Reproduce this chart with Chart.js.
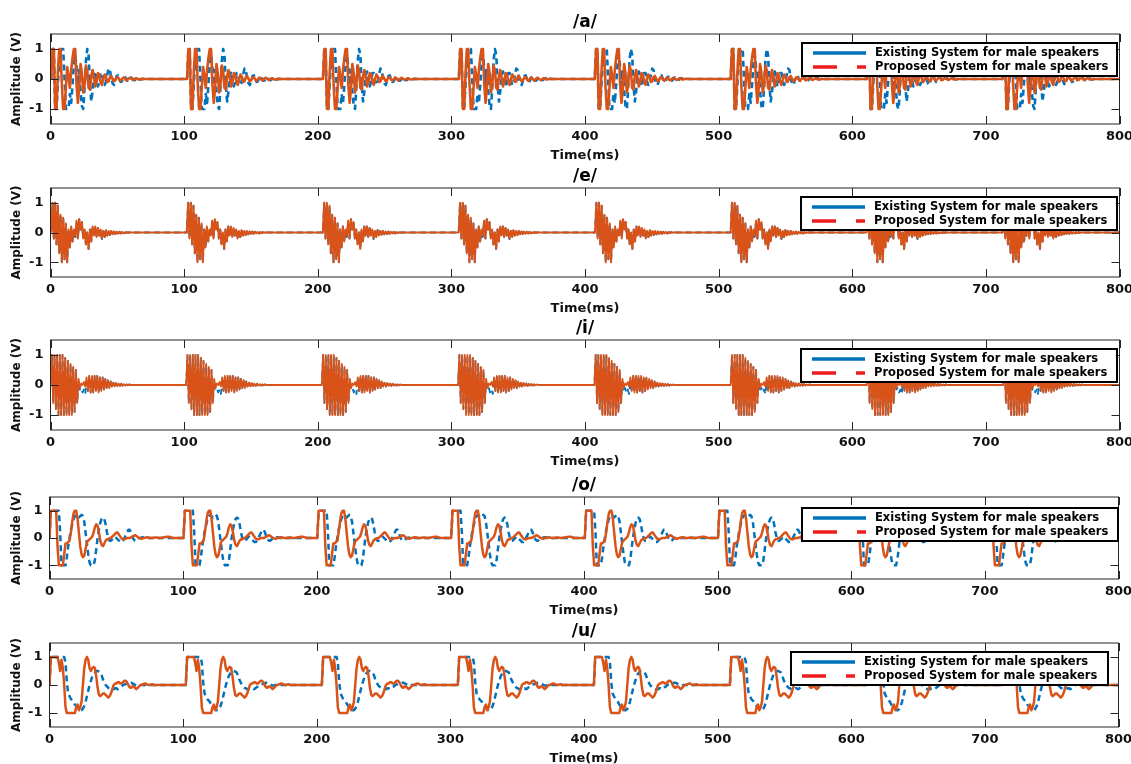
<!DOCTYPE html>
<html>
<head>
<meta charset="utf-8">
<script src="https://cdn.jsdelivr.net/npm/chart.js@4.4.1/dist/chart.umd.min.js"></script>
<style>
  body { margin: 0; background: #fff; width: 1131px; height: 764px; position: relative; overflow: hidden; }
  .panel { position: absolute; left: 0; }
</style>
</head>
<body>
<script>
// ---- data ----
const timeTicks = [0, 100, 200, 300, 400, 500, 600, 700, 800];
const ampTicks = [-1, 0, 1];
const vowels = ['/a/', '/e/', '/i/', '/o/', '/u/'];
const seriesNames = ['Existing System for male speakers', 'Proposed System for male speakers'];
const sampleStep = 1; // ms between samples of one burst

// burst start times (ms) in each panel
const onsetsA = [0.5, 102.2, 203.9, 305.6, 407.3, 509, 610.7, 712.4];
const onsetsE = [0.5, 102, 203.8, 305.5, 407.5, 509, 610.8, 712.5];
const onsetsI = [0, 101.5, 203, 305, 407, 509, 611, 713];
const onsetsO = [0, 100.3, 200.4, 300.6, 400.6, 500.3, 600.5, 700.5];
const onsetsU = [0, 102, 203.8, 305.6, 407.4, 509.2, 611, 712.8];

// one burst of each signal, sampled every ms from its onset
const existingA = [0, 1, 1, -1, -1, -0.2, 0.5, 0.9, 1, 1, 0, -1, -1, -1, -0.5, -0.8, -0.2, 0.5, 0.8, 0.4,
  -0.2, 0.3, -0.4, -0.9, -1, -0.3, 0.6, 1, 0.8, -0.2, -0.75, -0.4, 0.1, 0.25, 0, -0.25, -0.1, 0.2, 0.2, -0.05,
  -0.2, -0.1, 0.15, 0.35, 0.3, 0, -0.15, -0.2, -0.05, 0.1, 0.12, 0, -0.1, -0.08, 0.04, 0.08, 0.02, -0.06, -0.05, 0.03,
  0.05, 0, -0.04, -0.03, 0.02, 0.03, 0, -0.02, -0.01, 0.01, 0];
const proposedA = [0, 1, 1, -1, -1, 0.2, 1, 1, -0.2, -1, -1, -0.3, 0.4, 0.1, -0.3, 0.3, 0.7, 1, 1, -0.2,
  -0.8, -0.3, 0.5, 0.2, -0.45, -0.2, 0.45, 0.3, -0.3, -0.35, 0.1, 0.3, 0.05, -0.25, -0.1, 0.2, 0.15, -0.1, -0.2, 0,
  0.15, 0.08, -0.1, -0.08, 0.06, 0.1, 0, -0.08, -0.04, 0.05, 0.06, -0.02, -0.06, 0, 0.05, 0.03, -0.04, -0.03, 0.02, 0.04,
  0, -0.03, -0.02, 0.02, 0.02, -0.01, -0.02, 0, 0.01, 0, 0];

const existingE = [0, 1, -0.2, 1, -0.4, 0.9, -0.7, 0.6, -1, 0.5, -0.9, 0.3, -1, 0.1, -0.5, 0.2, -0.3, 0, -0.15, 0.35,
  -0.2, 0.45, 0.1, 0.35, -0.2, 0.1, -0.4, 0, -0.55, 0.1, -0.3, 0.2, -0.1, 0.2, -0.15, 0.15, -0.1, 0.05, -0.22, 0.05,
  -0.15, 0.08, -0.1, 0.05, -0.08, 0.05, -0.06, 0.03, -0.05, 0.03, -0.04, 0.02, -0.03, 0.02, -0.03, 0.01, -0.02, 0.01, -0.01, 0.01, 0];
const proposedE = [0, 1, -0.2, 1, -0.4, 0.9, -0.7, 0.6, -1, 0.5, -0.9, 0.3, -1, 0.1, -0.5, 0.2, -0.3, 0.1, -0.1, 0.4,
  -0.2, 0.45, 0.1, 0.35, -0.2, 0.1, -0.4, 0, -0.55, 0.1, -0.3, 0.2, -0.1, 0.2, -0.15, 0.15, -0.1, 0.1, -0.2, 0.05,
  -0.15, 0.08, -0.1, 0.05, -0.08, 0.05, -0.06, 0.03, -0.05, 0.03, -0.04, 0.02, -0.03, 0.02, -0.03, 0.01, -0.02, 0.01, -0.01, 0.01, 0];

const existingI = [0, 1, -0.6, 1, -0.8, 1, -1, 1, -1, 1, -1, 0.9, -1, 0.8, -1, 0.7, -1, 0.6, -0.9, 0.5,
  -0.6, 0.1, -0.15, -0.1, -0.25, -0.15, -0.3, 0.1, -0.2, 0.3, -0.25, 0.3, -0.25, 0.3, -0.2, 0.3, -0.25, 0.25, -0.2, 0.25,
  -0.15, 0.2, -0.1, 0.15, -0.1, 0.12, -0.05, 0.08, -0.05, 0.06, -0.03, 0.05, -0.03, 0.04, -0.02, 0.03, -0.02, 0.02, -0.01, 0.02, 0];
const proposedI = [0, 1, -0.6, 1, -0.8, 1, -1, 1, -1, 1, -1, 0.9, -1, 0.8, -1, 0.7, -1, 0.6, -0.9, 0.5,
  -0.6, 0.2, -0.1, 0.05, 0, 0.1, -0.05, 0.25, -0.2, 0.3, -0.25, 0.3, -0.25, 0.3, -0.2, 0.3, -0.25, 0.25, -0.2, 0.25,
  -0.15, 0.2, -0.1, 0.15, -0.1, 0.12, -0.05, 0.08, -0.05, 0.06, -0.03, 0.05, -0.03, 0.04, -0.02, 0.03, -0.02, 0.02, -0.01, 0.02, 0];

const existingO = [0, 1, 1, 1, 1, 1, 1, 1, 0.2, -1, -1, -1, -1, -0.7, -0.3, 0, 0.3, 0.5, 0.7, 0.8,
  0.85, 0.8, 0.75, 0.8, 0.85, 0.8, 0.6, 0.2, -0.2, -0.6, -0.9, -1, -1, -1, -0.8, -0.4, 0, 0.3, 0.55, 0.7,
  0.75, 0.7, 0.5, 0.2, 0, -0.1, -0.1, -0.05, 0, 0.05, 0, -0.05, -0.1, -0.15, -0.15, -0.1, 0, 0.1, 0.2, 0.3,
  0.3, 0.2, 0.05, -0.05, -0.1, -0.1, -0.05, 0, 0, 0.02, 0.03, 0.02, 0];
const proposedO = [0, 1, 1, 1, 1, 1, -0.3, -1, -1, -1, -1, -0.6, -0.2, -0.2, -0.15, -0.1, 0.2, 0.6, 0.9, 1,
  1, 0.7, 0.2, -0.3, -0.6, -0.7, -0.65, -0.4, -0.15, -0.1, -0.05, 0, 0.05, 0.2, 0.4, 0.5, 0.45, 0.2, -0.1, -0.25,
  -0.3, -0.2, -0.1, -0.05, -0.05, 0, 0, 0.05, 0.1, 0.15, 0.2, 0.2, 0.12, 0.05, -0.02, -0.05, -0.05, -0.02, 0, 0,
  0, 0.02, 0.05, 0.08, 0.1, 0.08, 0.03, 0, -0.02, -0.03, 0, 0, 0.02, 0.03, 0.02, 0, 0, 0, 0.01, 0.02,
  0.02, 0.01, 0, 0, 0.01, 0.02, 0.03, 0.04, 0.05, 0.05, 0.04, 0.02, 0];

const existingU = [0, 1, 1, 1, 1, 1, 1, 1, 1, 1, 1, 1, 0.8, 0.1, -0.3, -0.4, -0.5, -0.55, -0.6, -0.7,
  -0.75, -0.8, -0.85, -0.9, -0.9, -0.85, -0.75, -0.6, -0.4, -0.2, 0, 0.15, 0.3, 0.4, 0.45, 0.5, 0.5, 0.48, 0.45, 0.35,
  0.2, 0.1, 0, -0.05, -0.1, -0.12, -0.15, -0.15, -0.15, -0.12, -0.12, -0.15, -0.12, -0.08, -0.05, 0, 0.02, 0.03, 0.05, 0.06,
  0.08, 0.08, 0.06, 0.03, 0, -0.02, -0.02, 0];
const proposedU = [0, 1, 1, 1, 1, 1, 1, 0.8, 0.5, 0.9, 0.6, 0, -0.8, -1, -1, -1, -1, -1, -1, -1,
  -0.8, -0.7, -0.9, -0.8, -0.6, 0, 0.6, 0.9, 1, 0.9, 0.6, 0.5, 0.6, 0.65, 0.6, 0.3, -0.1, -0.35, -0.4, -0.35,
  -0.3, -0.3, -0.35, -0.4, -0.45, -0.4, -0.3, -0.15, 0, 0.05, 0.05, 0.1, 0.1, 0.05, 0.05, 0.1, 0.15, 0.15, 0.1, 0,
  -0.08, -0.1, -0.05, -0.05, -0.1, -0.15, -0.1, -0.05, 0, 0, 0.03, 0.05, 0.05, 0.02, 0, 0, 0.02, 0.03, 0];

const onsets = [onsetsA, onsetsE, onsetsI, onsetsO, onsetsU];
const existing = [existingA, existingE, existingI, existingO, existingU];
const proposed = [proposedA, proposedE, proposedI, proposedO, proposedU];

// ---- layout (pixels) ----
const plotTop = [34, 188, 340, 497, 643];
const plotBottom = [124, 277, 430, 579, 727];
const plotLeft = [50.5, 50.5, 50.5, 49.5, 49.5];
const plotRight = [1119.5, 1119.5, 1119.5, 1118.5, 1118.5];
const legendLeft = [802, 801, 801, 802, 791];
const legendRight = [1117, 1117, 1117, 1118, 1108];
const legendDrop = [9, 9, 9, 11, 9];
const lineWidths = [2.6, 2, 1.8, 2.5, 2.5];

const ORANGE = '#D95319';
const BLUE = '#0072BD';
const FONT = '"DejaVu Sans", sans-serif';

function burstTrain(starts, shape) {
  const pts = [];
  starts.forEach(t0 => shape.forEach((v, i) => pts.push({ x: t0 + i * sampleStep, y: v })));
  const end = timeTicks[timeTicks.length - 1];
  if (pts[pts.length - 1].x < end) pts.push({ x: end, y: 0 });
  return pts;
}

const framePlugin = {
  id: 'frame',
  afterDraw(chart, args, opts) {
    const { ctx, chartArea: a, scales: { x, y } } = chart;
    ctx.save();
    // axes title
    ctx.fillStyle = '#000';
    ctx.font = 'bold 17px ' + FONT;
    ctx.textAlign = 'center';
    ctx.textBaseline = 'middle';
    ctx.fillText(opts.title, (a.left + a.right) / 2, a.top - 11);
    // box + inward ticks
    ctx.strokeStyle = '#262626';
    ctx.lineWidth = 1;
    ctx.strokeRect(a.left, a.top, a.right - a.left, a.bottom - a.top);
    ctx.beginPath();
    timeTicks.forEach(v => {
      const px = Math.round(x.getPixelForValue(v)) + 0.5;
      ctx.moveTo(px, a.bottom); ctx.lineTo(px, a.bottom - 8);
      ctx.moveTo(px, a.top); ctx.lineTo(px, a.top + 8);
    });
    ampTicks.forEach(v => {
      const py = Math.round(y.getPixelForValue(v)) + 0.5;
      ctx.moveTo(a.left, py); ctx.lineTo(a.left + 8, py);
      ctx.moveTo(a.right, py); ctx.lineTo(a.right - 8, py);
    });
    ctx.stroke();
    // legend box
    const L = opts.legend.left, R = opts.legend.right, T = a.top + opts.legend.drop, H = 33;
    ctx.fillStyle = '#fff';
    ctx.fillRect(L, T, R - L, H);
    ctx.strokeStyle = '#000';
    ctx.lineWidth = 2;
    ctx.strokeRect(L, T, R - L, H);
    const rows = [T + 10, T + 24];
    ctx.lineWidth = 3.5;
    ctx.strokeStyle = BLUE;
    ctx.setLineDash([]);
    ctx.beginPath(); ctx.moveTo(L + 11, rows[0]); ctx.lineTo(L + 64, rows[0]); ctx.stroke();
    ctx.strokeStyle = '#EE1C1C';
    ctx.setLineDash([24, 20]);
    ctx.beginPath(); ctx.moveTo(L + 11, rows[1]); ctx.lineTo(L + 64, rows[1]); ctx.stroke();
    ctx.setLineDash([]);
    ctx.fillStyle = '#000';
    ctx.font = 'bold 11.5px ' + FONT;
    ctx.textAlign = 'left';
    chart.data.datasets.forEach((ds, i) => ctx.fillText(ds.label, L + 73, rows[i]));
    ctx.restore();
  }
};

vowels.forEach((vowel, p) => {
  const top = plotTop[p] - 34;
  const h = plotBottom[p] + 41 - top;
  const div = document.createElement('div');
  div.className = 'panel';
  div.style.top = top + 'px';
  div.style.width = '1131px';
  div.style.height = h + 'px';
  const canvas = document.createElement('canvas');
  canvas.width = 1131;
  canvas.height = h;
  div.appendChild(canvas);
  document.body.appendChild(div);

  const tickFont = { family: FONT, size: 13, weight: 'bold' };
  new Chart(canvas, {
    type: 'line',
    data: {
      datasets: [
        { label: seriesNames[0], data: burstTrain(onsets[p], existing[p]), borderColor: BLUE,
          borderWidth: lineWidths[p], borderDash: [6, 4], borderJoinStyle: 'round', pointRadius: 0, tension: 0, order: 2 },
        { label: seriesNames[1], data: burstTrain(onsets[p], proposed[p]), borderColor: ORANGE,
          borderWidth: lineWidths[p], borderJoinStyle: 'round', pointRadius: 0, tension: 0, order: 1 }
      ]
    },
    options: {
      responsive: false,
      animation: false,
      parsing: false,
      events: [],
      layout: { padding: { left: 0, right: 1131 - plotRight[p], top: 34, bottom: 0 } },
      plugins: {
        legend: { display: false },
        tooltip: { enabled: false },
        frame: { title: vowel, legend: { left: legendLeft[p], right: legendRight[p], drop: legendDrop[p] } }
      },
      scales: {
        x: {
          type: 'linear', min: 0, max: 800,
          afterBuildTicks: s => { s.ticks = timeTicks.map(v => ({ value: v })); },
          afterFit: s => { s.height = 41; s.paddingLeft = 0; s.paddingRight = 0; },
          grid: { display: false, drawTicks: false },
          border: { display: false },
          ticks: { font: tickFont, color: '#111', padding: 5, maxRotation: 0, autoSkip: false },
          title: { display: true, text: 'Time(ms)', font: tickFont, color: '#111', padding: { top: 0, bottom: 2 } }
        },
        y: {
          min: -1.5, max: 1.5,
          afterBuildTicks: s => { s.ticks = ampTicks.map(v => ({ value: v })); },
          afterFit: s => { s.width = plotLeft[p]; s.paddingTop = 0; s.paddingBottom = 0; },
          grid: { display: false, drawTicks: false },
          border: { display: false },
          ticks: { font: tickFont, color: '#111', padding: 7 },
          title: { display: true, text: 'Amplitude (V)', font: { family: FONT, size: 12, weight: 'bold' }, color: '#111', padding: { top: 10, bottom: 0 } }
        }
      }
    },
    plugins: [framePlugin]
  });
});
</script>
</body>
</html>
